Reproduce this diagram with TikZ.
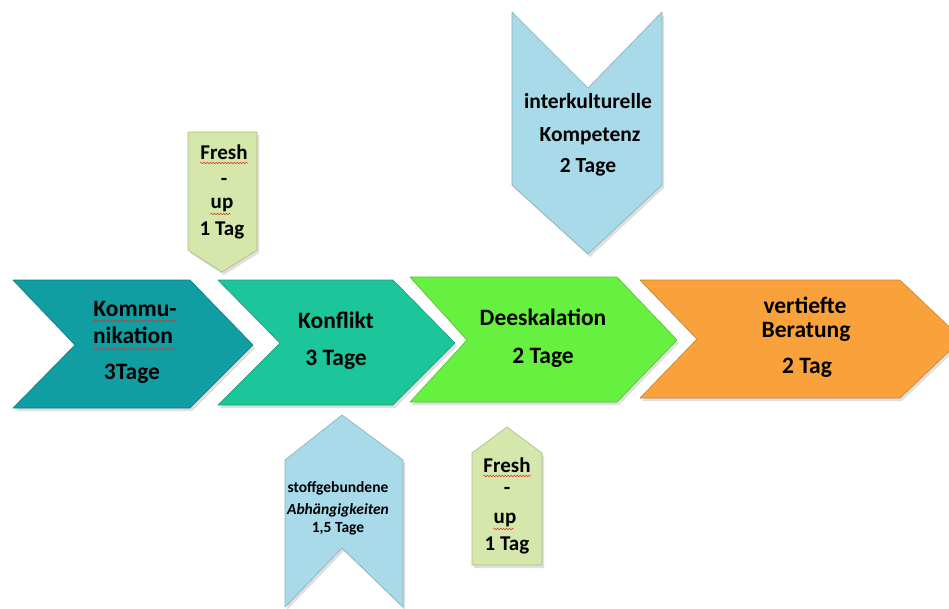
\documentclass[tikz,border=0pt]{standalone}
\usepackage{fontspec}
\setmainfont{Carlito}
\usetikzlibrary{decorations.pathmorphing, shadows}
\definecolor{Teal}{HTML}{119EA2}
\definecolor{Mint}{HTML}{1DC59B}
\definecolor{Lime}{HTML}{66F03F}
\definecolor{Orange}{HTML}{F9A23B}
\definecolor{Sky}{HTML}{A9DAEA}
\definecolor{Pale}{HTML}{D5E7AA}
\definecolor{Wave}{HTML}{E03030}

\begin{document}
\begin{tikzpicture}[x=1pt, y=-1pt,
    every node/.style={anchor=base, inner sep=0pt},
    block/.style={fill=#1, draw=#1!80!black, line width=0.6pt, line join=round,
      drop shadow={opacity=0.25, shadow xshift=2pt, shadow yshift=-3pt}},
    big/.style={font=\fontsize{23.5}{28}\selectfont\bfseries},
    mid/.style={font=\fontsize{21}{25}\selectfont\bfseries},
    small/.style={font=\fontsize{15.5}{18}\selectfont\bfseries},
    spell/.style={draw=Wave, line width=0.5pt,
      decorate, decoration={snake, amplitude=0.8pt, segment length=3pt}}]
  \useasboundingbox (0,0) rectangle (949,608);
  % main chevrons
  \path[block=Teal] (13,280) -- (190,280) -- (253,345) -- (190,408) -- (13,408) -- (75,345) -- cycle;
  \path[block=Mint] (218,280) -- (393,280) -- (455,343) -- (393,405) -- (218,405) -- (280,343) -- cycle;
  \path[block=Lime] (410,277) -- (617,277) -- (677,340) -- (617,402) -- (410,402) -- (467,340) -- cycle;
  \path[block=Orange] (640,280) -- (900,280) -- (962,339) -- (900,398) -- (640,398) -- (697,339) -- cycle;
  % side arrows
  \path[block=Pale] (188,132) -- (257,132) -- (257,250) -- (222,272) -- (188,250) -- cycle;
  \path[block=Sky] (512,12) -- (588,88) -- (662,12) -- (662,185) -- (588,254) -- (512,185) -- cycle;
  \path[block=Sky] (342,415) -- (403,460) -- (403,607) -- (342,548) -- (285,607) -- (285,460) -- cycle;
  \path[block=Pale] (507,427) -- (542,453) -- (542,565) -- (472,565) -- (472,453) -- cycle;
  % labels on the chevrons
  \node[big] (komm1) at (135,316) {Kommu-};
  \node[big] (komm2) at (133,343) {nikation};
  \node[big] (komm3) at (132,379) {3Tage};
  \node[big] (konf1) at (336,328) {Konflikt};
  \node[big] (konf2) at (336,365) {3 Tage};
  \node[big] (deesk1) at (543,325) {Deeskalation};
  \node[big] (deesk2) at (543,363) {2 Tage};
  \node[big] (berat1) at (805,313) {vertiefte};
  \node[big] (berat2) at (806,337) {Beratung};
  \node[big] (berat3) at (807,373) {2 Tag};
  % labels on the side arrows
  \node[mid] (fresha1) at (224,159) {Fresh};
  \node[mid] (fresha2) at (224,185) {-};
  \node[mid] (fresha3) at (222,208) {up};
  \node[mid] (fresha4) at (222,235) {1 Tag};
  \node[mid, font=\fontsize{21.5}{25}\selectfont\bfseries] (inter1) at (588,108) {interkulturelle};
  \node[mid, font=\fontsize{21.5}{25}\selectfont\bfseries] (inter2) at (590,141) {Kompetenz};
  \node[mid, font=\fontsize{21.5}{25}\selectfont\bfseries] (inter3) at (588,172) {2 Tage};
  \node[small] (stoff1) at (338,492) {stoffgebundene};
  \node[small] (stoff2) at (338,514) {\textit{Abhängigkeiten}};
  \node[small] (stoff3) at (338,532) {1,5 Tage};
  \node[mid] (freshb1) at (507,472) {Fresh};
  \node[mid] (freshb2) at (507,494) {-};
  \node[mid] (freshb3) at (505,523) {up};
  \node[mid] (freshb4) at (507,550) {1 Tag};
  % spell check marks
  \draw[spell] (komm1.base west) ++(0,5) -- ++(84,0);
  \draw[spell] (komm2.base west) ++(0,6) -- ++(82,0);
  \draw[spell] (fresha1.base west) ++(0,4) -- ++(48,0);
  \draw[spell] (fresha3.base west) ++(0,6) -- ++(20,0);
  \draw[spell] (freshb1.base west) ++(0,4) -- ++(48,0);
  \draw[spell] (freshb3.base west) ++(0,6) -- ++(20,0);
\end{tikzpicture}
\end{document}
